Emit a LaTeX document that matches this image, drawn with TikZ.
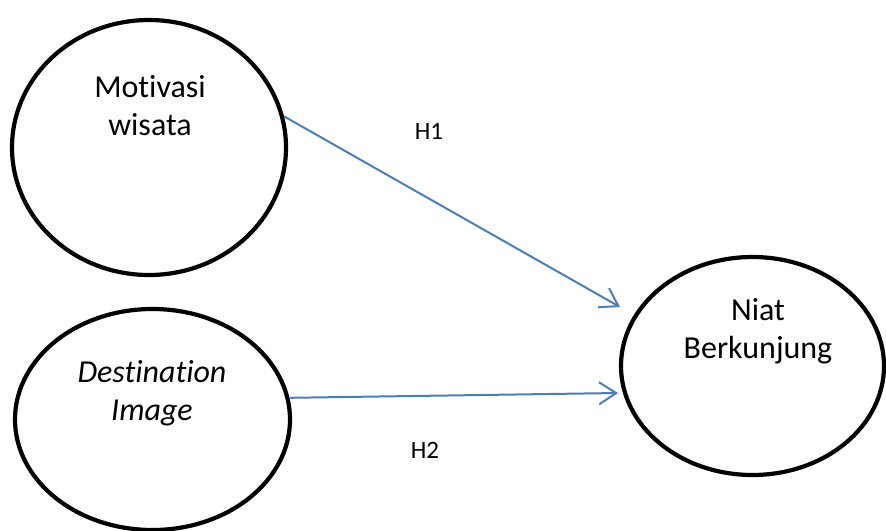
\documentclass[tikz,border=0pt]{standalone}
\usepackage{fontspec}
\setmainfont[Ligatures={NoCommon}]{Carlito}
\usetikzlibrary{shapes.geometric,arrows.meta}
\definecolor{lineblue}{HTML}{4A7EBB}
\begin{document}
\begin{tikzpicture}[x=1pt,y=-1pt,
  bubble/.style={draw=black, line width=4.2pt, ellipse, inner sep=0pt, fill=none},
  txt/.style={align=center, inner sep=0pt, anchor=base, font=\fontsize{32}{38}\selectfont},
  hlabel/.style={inner sep=0pt, font=\fontsize{25}{30}\selectfont},
  link/.style={draw=lineblue, line width=2pt, -{Straight Barb[length=17pt,width=22pt,line width=2pt]}}]
\useasboundingbox (0,0) rectangle (886,530);
\node[bubble, minimum width=274pt, minimum height=255pt] (mot) at (149,147.5) {};
\node[bubble, minimum width=275pt, minimum height=221pt] (dest) at (152.5,419.5) {};
\node[bubble, minimum width=263pt, minimum height=218pt] (niat) at (752.5,366) {};
\node[txt] (mottxt) at (150,135) {Motivasi\\wisata};
\node[txt] (desttxt) at (152,420) {\itshape Destination\\\itshape Image};
\node[txt] (niattxt) at (758,358) {Niat\\Berkunjung};
\coordinate (h1end) at (620,307);
\coordinate (h2end) at (618,393);
\draw[link] (mot.13) -- (h1end);
\draw[link] (dest.9) -- (h2end);
\node[hlabel] (h1) at (429,131) {H1};
\node[hlabel] (h2) at (425,450) {H2};
\end{tikzpicture}
\end{document}
